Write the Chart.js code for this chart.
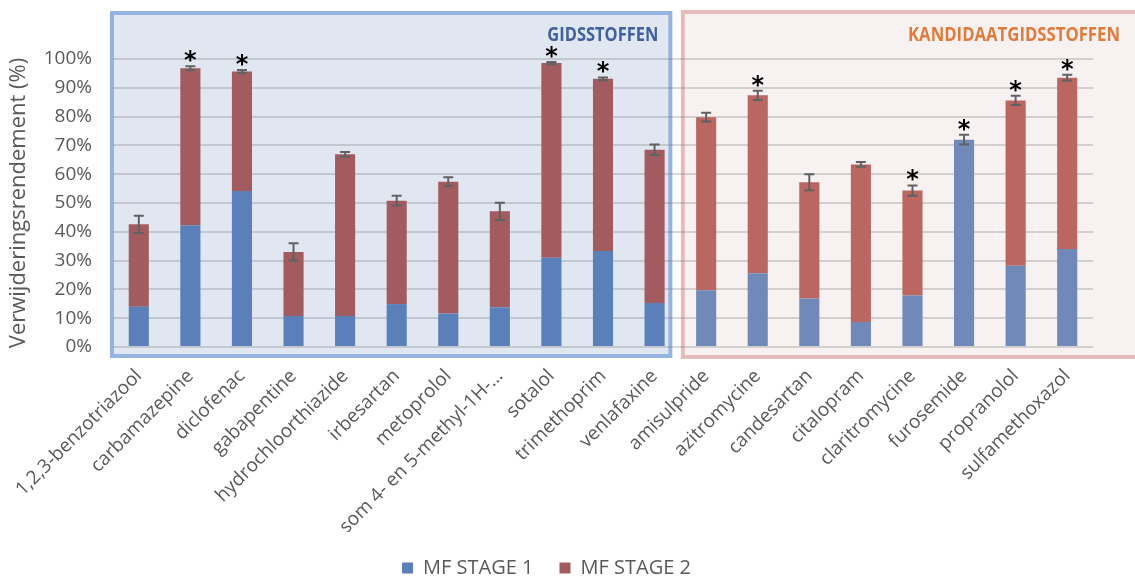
<!DOCTYPE html>
<html>
<head>
<meta charset="utf-8">
<script src="https://cdn.jsdelivr.net/npm/chart.js@4"></script>
<style>
html,body{margin:0;padding:0;background:#fff;}
#wrap{width:1135px;height:578px;}
</style>
</head>
<body>
<div id="wrap"><canvas id="chart" width="1135" height="578"></canvas></div>
<script>
// --- Data ---
const compounds = [
  '1,2,3-benzotriazool','carbamazepine','diclofenac','gabapentine','hydrochloorthiazide',
  'irbesartan','metoprolol','som 4- en 5-methyl-1H-\u2026','sotalol','trimethoprim','venlafaxine',
  'amisulpride','azitromycine','candesartan','citalopram','claritromycine','furosemide',
  'propranolol','sulfamethoxazol'
];
const stage1 = [14, 42.3, 54.2, 10.8, 10.8, 14.9, 11.6, 13.8, 31, 33.3, 15.3, 19.7, 25.6, 16.8, 8.7, 17.9, 72, 28.2, 34];
const stage2 = [28.6, 54.5, 41.5, 22.2, 56.1, 35.9, 45.8, 33.3, 67.6, 59.8, 53.2, 60.1, 61.8, 40.4, 54.7, 36.4, 0, 57.4, 59.5];
const errors = [3, 0.7, 0.5, 3, 0.8, 1.7, 1.5, 3, 0.4, 0.5, 1.8, 1.5, 1.6, 2.8, 0.8, 1.8, 1.7, 1.6, 1.0];
const significant = [false, true, true, false, false, false, false, false, true, true, false,
                     false, true, false, false, true, true, true, true];
const yTicks = [0, 10, 20, 30, 40, 50, 60, 70, 80, 90, 100];
const groupTitles = ['GIDSSTOFFEN', 'KANDIDAATGIDSSTOFFEN'];
const groupSplit = 11; // first 11 compounds are gidsstoffen

// --- Colors ---
const C1 = ['#5a7fb9', '#7089b8'];
const C2 = ['#a25b5f', '#ba6661'];
const TXT = '#595959';
const col = (arr) => compounds.map((c, i) => i < groupSplit ? arr[0] : arr[1]);

// --- Plugins ---
const bgBoxes = {
  id: 'bgBoxes',
  beforeDraw(chart) {
    const {ctx, chartArea: ca, scales: {x}} = chart;
    const mid = (x.getPixelForValue(groupSplit - 1) + x.getPixelForValue(groupSplit)) / 2;
    ctx.save();
    ctx.lineWidth = 4;
    // gidsstoffen box
    let t = ca.top - 46, b = ca.bottom + 9, l = ca.left - 1, r = mid - 10;
    ctx.fillStyle = '#e1e7f1';
    ctx.fillRect(l, t, r - l, b - t);
    ctx.strokeStyle = '#95b3df';
    ctx.strokeRect(l, t, r - l, b - t);
    // kandidaat box
    t = ca.top - 47; b = ca.bottom + 10; l = mid + 2.5; r = chart.width + 20;
    ctx.fillStyle = '#f7f1f1';
    ctx.fillRect(l, t, r - l, b - t);
    ctx.strokeStyle = '#e4bcbb';
    ctx.strokeRect(l, t, r - l, b - t);
    // titles
    ctx.font = 'bold 19px "Open Sans"';
    ctx.textAlign = 'right';
    ctx.textBaseline = 'alphabetic';
    ctx.fillStyle = '#3f619f';
    ctx.fillText(groupTitles[0], mid - 22, ca.top - 18.5, 111);
    ctx.fillStyle = '#e07b3b';
    ctx.fillText(groupTitles[1], ca.right + 27, ca.top - 18.5, 212);
    ctx.restore();
  }
};

const errorBars = {
  id: 'errorBars',
  afterDatasetsDraw(chart) {
    const {ctx, scales: {x, y}} = chart;
    ctx.save();
    ctx.strokeStyle = '#5f6163';
    ctx.lineWidth = 2;
    compounds.forEach((c, i) => {
      const tot = stage1[i] + stage2[i];
      const px = x.getPixelForValue(i);
      const yt = y.getPixelForValue(tot + errors[i]);
      const yb = y.getPixelForValue(tot - errors[i]);
      ctx.beginPath();
      ctx.moveTo(px, yt); ctx.lineTo(px, yb);
      ctx.moveTo(px - 5, yt); ctx.lineTo(px + 5, yt);
      ctx.moveTo(px - 5, yb); ctx.lineTo(px + 5, yb);
      ctx.stroke();
      if (significant[i]) {
        ctx.font = 'bold 24px "DejaVu Sans"';
        ctx.fillStyle = '#000';
        ctx.textAlign = 'center';
        ctx.textBaseline = 'alphabetic';
        const m = ctx.measureText('*');
        const cy = yt - 10;
        ctx.fillText('*', px, cy + (m.actualBoundingBoxAscent - m.actualBoundingBoxDescent) / 2);
      }
    });
    ctx.restore();
  }
};

// --- Chart ---
new Chart(document.getElementById('chart'), {
  type: 'bar',
  data: {
    labels: compounds,
    datasets: [
      {label: 'MF STAGE 1', data: stage1, backgroundColor: col(C1), categoryPercentage: 1, barPercentage: 0.39},
      {label: 'MF STAGE 2', data: stage2, backgroundColor: col(C2), categoryPercentage: 1, barPercentage: 0.39}
    ]
  },
  options: {
    responsive: false,
    animation: false,
    layout: {padding: {top: 59, right: 42, left: 0, bottom: -10}},
    scales: {
      x: {
        stacked: true,
        grid: {display: false},
        border: {display: false},
        ticks: {
          autoSkip: false, minRotation: 45, maxRotation: 45,
          color: TXT, font: {family: 'Open Sans', size: 19}, padding: 10
        },
        afterFit: (s) => { s.height = 185; }
      },
      y: {
        stacked: true,
        min: 0, max: 100,
        afterBuildTicks: (s) => { s.ticks = yTicks.map(v => ({value: v})); },
        grid: {color: 'rgba(120,120,120,0.28)', lineWidth: 2, drawTicks: false},
        border: {display: false},
        ticks: {
          color: TXT, font: {family: 'Open Sans', size: 19}, padding: 21,
          callback: (v) => v + '%'
        },
        title: {
          display: true, text: 'Verwijderingsrendement (%)',
          color: TXT, font: {family: 'Open Sans', size: 22}, padding: {top: 6, bottom: 0}
        },
        afterFit: (s) => { s.width = 113; }
      }
    },
    plugins: {
      legend: {
        position: 'bottom',
        labels: {
          boxWidth: 11, boxHeight: 11, padding: 26,
          color: TXT, font: {family: 'Open Sans', size: 20},
          generateLabels: (chart) => chart.data.datasets.map((d, i) => ({
            text: d.label, fillStyle: [C1[0], C2[0]][i], strokeStyle: [C1[0], C2[0]][i],
            lineWidth: 0, hidden: false, datasetIndex: i, fontColor: TXT
          }))
        }
      },
      tooltip: {enabled: false}
    }
  },
  plugins: [bgBoxes, errorBars]
});
</script>
</body>
</html>
